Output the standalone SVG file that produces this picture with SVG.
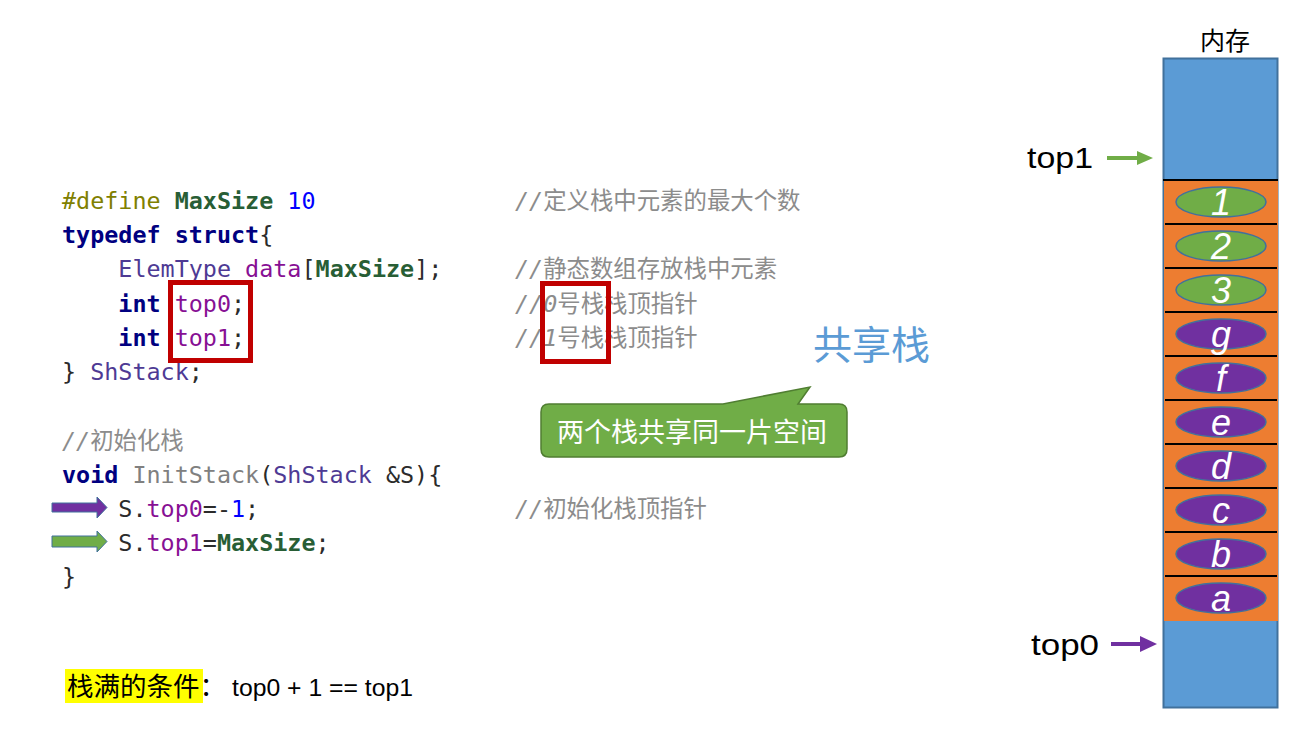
<svg xmlns="http://www.w3.org/2000/svg" width="1304" height="729" viewBox="0 0 1304 729">
<style>
.code{font-family:"DejaVu Sans Mono","Noto Sans CJK SC",monospace;font-size:23.4px;fill:#2b2b2b;white-space:pre}
.kw{fill:#000080;font-weight:bold}
.mac{fill:#808000}
.ms{fill:#285e35;font-weight:bold}
.num{fill:#0000ff}
.fld{fill:#871094}
.typ{fill:#4e3a94}
.fn{fill:#808080}
.cm{fill:#8c8c8c}
.it{font-style:italic}
.cjk{font-family:"Noto Sans CJK SC",sans-serif}
.lbl{font-family:"Liberation Sans","Noto Sans",sans-serif;fill:#000}
.cell{font-family:"Liberation Sans",sans-serif;font-style:italic;font-size:36px;fill:#fff;text-anchor:middle}
.eg{fill:#70ad47;stroke:#41719c;stroke-width:1.5}
.ep{fill:#7030a0;stroke:#41719c;stroke-width:1.5}
.sep{stroke:#000;stroke-width:2}
.redbox{fill:none;stroke:#c00000;stroke-width:5}
</style>

<g id="code">
<text class="code" x="62" y="209"><tspan class="mac">#define</tspan> <tspan class="ms">MaxSize</tspan> <tspan class="num">10</tspan></text>
<text class="code" x="62" y="243"><tspan class="kw">typedef</tspan> <tspan class="kw">struct</tspan>{</text>
<text class="code" x="62" y="277">    <tspan class="typ">ElemType</tspan> <tspan class="fld">data</tspan>[<tspan class="ms">MaxSize</tspan>];</text>
<text class="code" x="62" y="312">    <tspan class="kw">int</tspan> <tspan class="fld">top0</tspan>;</text>
<text class="code" x="62" y="346">    <tspan class="kw">int</tspan> <tspan class="fld">top1</tspan>;</text>
<text class="code" x="62" y="380">} <tspan class="typ">ShStack</tspan>;</text>
<text class="code cm" x="62" y="449"><tspan class="it">//</tspan>初始化栈</text>
<text class="code" x="62" y="483"><tspan class="kw">void</tspan> <tspan class="fn">InitStack</tspan>(<tspan class="typ">ShStack</tspan> &amp;S){</text>
<text class="code" x="62" y="517">    S.<tspan class="fld">top0</tspan>=-<tspan class="num">1</tspan>;</text>
<text class="code" x="62" y="551">    S.<tspan class="fld">top1</tspan>=<tspan class="ms">MaxSize</tspan>;</text>
<text class="code" x="62" y="585">}</text>
</g>

<g id="comments">
<text class="code cm" x="515" y="209"><tspan class="it">//</tspan>定义栈中元素的最大个数</text>
<text class="code cm" x="515" y="277"><tspan class="it">//</tspan>静态数组存放栈中元素</text>
<text class="code cm" x="515" y="312"><tspan class="it">//0</tspan>号栈栈顶指针</text>
<text class="code cm" x="515" y="346"><tspan class="it">//1</tspan>号栈栈顶指针</text>
<text class="code cm" x="515" y="517"><tspan class="it">//</tspan>初始化栈顶指针</text>
</g>

<g id="highlight-boxes">
<rect class="redbox" x="170.5" y="282.5" width="80" height="78"/>
<rect class="redbox" x="542.5" y="283.5" width="66" height="78"/>
</g>

<g id="title-shared-stack">
<text x="813" y="359" font-family="Noto Sans CJK SC, sans-serif" font-size="39" fill="#5b9bd5">共享栈</text>
</g>

<g id="callout">
<path d="M549,404 H723 L810,387 L798,404 H839 Q847,404 847,412 V449 Q847,457 839,457 H549 Q541,457 541,449 V412 Q541,404 549,404 Z" fill="#70ad47" stroke="#507e32" stroke-width="1.5"/>
<text x="557" y="442" font-family="Noto Sans CJK SC, sans-serif" font-size="27" fill="#fff">两个栈共享同一片空间</text>
</g>

<g id="full-condition">
<rect x="65" y="669" width="138" height="34" fill="#ffff00"/>
<text x="67" y="696" font-family="Noto Sans CJK SC, sans-serif" font-size="26.5" fill="#000">栈满的条件：</text>
<text class="lbl" x="232" y="696" font-size="24" textLength="181" lengthAdjust="spacingAndGlyphs">top0 + 1 == top1</text>
</g>

<g id="memory">
<text x="1225" y="50" font-family="Noto Sans CJK SC, sans-serif" font-size="25" fill="#000" text-anchor="middle">内存</text>
<rect x="1163.5" y="58.5" width="114" height="649" fill="#5b9bd5" stroke="#41719c" stroke-width="2"/>
<rect x="1164" y="180" width="114" height="441" fill="#ed7d31"/>
<line class="sep" x1="1163" y1="180" x2="1278" y2="180"/>
<line class="sep" x1="1165" y1="224" x2="1277" y2="224"/>
<line class="sep" x1="1165" y1="268" x2="1277" y2="268"/>
<line class="sep" x1="1165" y1="312" x2="1277" y2="312"/>
<line class="sep" x1="1165" y1="356" x2="1277" y2="356"/>
<line class="sep" x1="1165" y1="400" x2="1277" y2="400"/>
<line class="sep" x1="1165" y1="444" x2="1277" y2="444"/>
<line class="sep" x1="1165" y1="488" x2="1277" y2="488"/>
<line class="sep" x1="1165" y1="532" x2="1277" y2="532"/>
<line class="sep" x1="1165" y1="576" x2="1277" y2="576"/>
</g>

<g id="cell-1"><ellipse class="eg" cx="1221" cy="202" rx="45" ry="15"/><text class="cell" x="1221" y="215">1</text></g>
<g id="cell-2"><ellipse class="eg" cx="1221" cy="246" rx="45" ry="15"/><text class="cell" x="1221" y="259">2</text></g>
<g id="cell-3"><ellipse class="eg" cx="1221" cy="290" rx="45" ry="15"/><text class="cell" x="1221" y="303">3</text></g>
<g id="cell-g"><ellipse class="ep" cx="1221" cy="334" rx="45" ry="15"/><text class="cell" x="1221" y="347">g</text></g>
<g id="cell-f"><ellipse class="ep" cx="1221" cy="378" rx="45" ry="15"/><text class="cell" x="1221" y="391">f</text></g>
<g id="cell-e"><ellipse class="ep" cx="1221" cy="422" rx="45" ry="15"/><text class="cell" x="1221" y="435">e</text></g>
<g id="cell-d"><ellipse class="ep" cx="1221" cy="466" rx="45" ry="15"/><text class="cell" x="1221" y="479">d</text></g>
<g id="cell-c"><ellipse class="ep" cx="1221" cy="510" rx="45" ry="15"/><text class="cell" x="1221" y="523">c</text></g>
<g id="cell-b"><ellipse class="ep" cx="1221" cy="554" rx="45" ry="15"/><text class="cell" x="1221" y="567">b</text></g>
<g id="cell-a"><ellipse class="ep" cx="1221" cy="598" rx="45" ry="15"/><text class="cell" x="1221" y="611">a</text></g>

<g id="pointer-labels">
<text class="lbl" x="1027" y="168" font-size="30" textLength="66" lengthAdjust="spacingAndGlyphs">top1</text>
<text class="lbl" x="1031" y="655" font-size="30" textLength="68" lengthAdjust="spacingAndGlyphs">top0</text>
</g>

<g id="connectors">
<path d="M1107,156 H1137 V151 L1153,158 L1137,165 V160 H1107 Z" fill="#70ad47"/>
<path d="M1111,642 H1140 V636 L1157,644 L1140,652 V646 H1111 Z" fill="#7030a0"/>
<path d="M52,503 H97 V497 L107,507.5 L97,518 V512 H52 Z" fill="#7030a0" stroke="#41719c" stroke-width="1"/>
<path d="M52,536 H97 V531 L107,541.5 L97,552 V547 H52 Z" fill="#70ad47" stroke="#41719c" stroke-width="1"/>
</g>
</svg>
